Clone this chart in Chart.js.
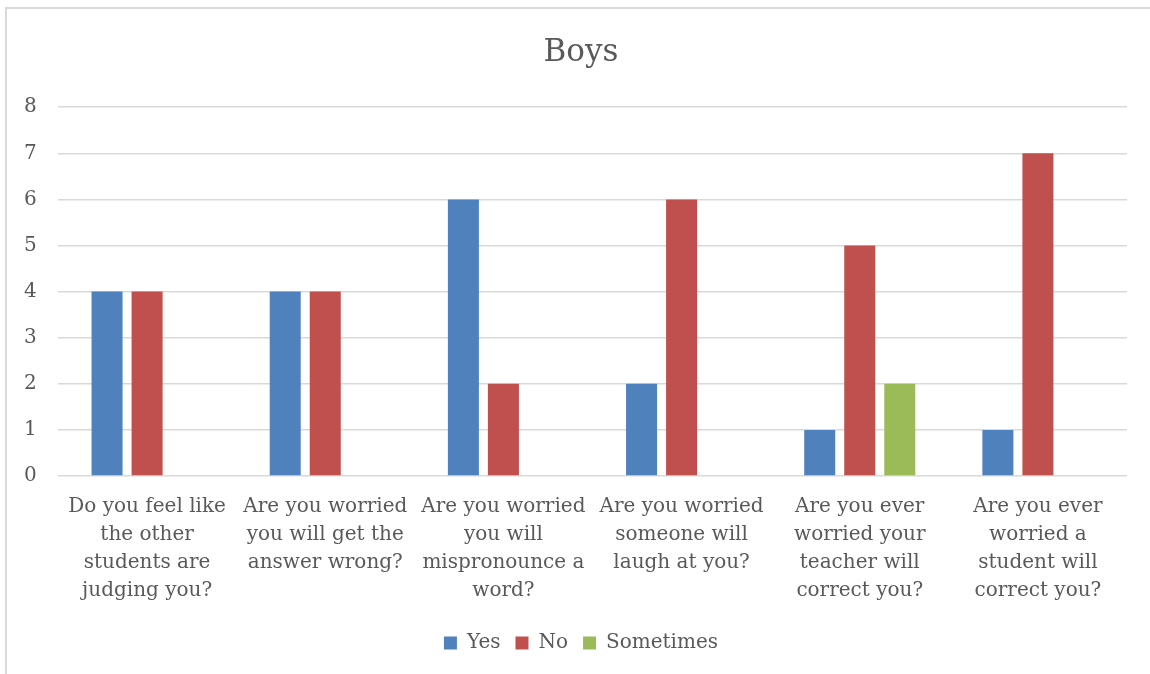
<!DOCTYPE html>
<html>
<head>
<meta charset="utf-8">
<script src="https://cdn.jsdelivr.net/npm/chart.js@4.4.1/dist/chart.umd.min.js"></script>
<style>
  html, body { margin: 0; padding: 0; background: #ffffff; overflow: hidden; }
  #frame { position: absolute; left: 5px; top: 7px; width: 1200px; height: 720px;
           border: 2px solid #d9d9d9; box-sizing: border-box; }
  #wrap { position: absolute; left: 0; top: 0; width: 1150px; height: 674px; }
</style>
</head>
<body>
<div id="frame"></div>
<div id="wrap"><canvas id="chart" width="1150" height="674"></canvas></div>
<script>
// Survey questions (wrapped the way they appear under each group)
const categories = [
  ["Do you feel like", "the other", "students are", "judging you?"],
  ["Are you worried", "you will get the", "answer wrong?"],
  ["Are you worried", "you will", "mispronounce a", "word?"],
  ["Are you worried", "someone will", "laugh at you?"],
  ["Are you ever", "worried your", "teacher will", "correct you?"],
  ["Are you ever", "worried a", "student will", "correct you?"]
];

// Number of boys giving each answer
const yesValues       = [4, 4, 6, 2, 1, 1];
const noValues        = [4, 4, 2, 6, 5, 7];
const sometimesValues = [null, null, null, null, 2, null];

const seriesNames = ["Yes", "No", "Sometimes"];
const yMin = 0, yMax = 8, yStep = 1;

const FONT = "'DejaVu Serif', 'Liberation Serif', serif";
const TEXT = "#595959";

new Chart(document.getElementById("chart"), {
  type: "bar",
  data: {
    labels: categories,
    datasets: [
      { label: seriesNames[0], data: yesValues, backgroundColor: "#4F81BD" },
      { label: seriesNames[1], data: noValues, backgroundColor: "#C0504D" },
      { label: seriesNames[2], data: sometimesValues, backgroundColor: "#9BBB59" }
    ]
  },
  options: {
    responsive: false,
    animation: false,
    devicePixelRatio: 1,
    layout: { padding: { left: 35, right: 23, top: 0, bottom: 11 } },
    datasets: {
      bar: { categoryPercentage: 0.674, barPercentage: 0.775, borderWidth: 0 }
    },
    plugins: {
      title: {
        display: true,
        text: "Boys",
        color: TEXT,
        font: { family: FONT, size: 31, weight: "normal" },
        padding: { top: 34, bottom: 36 }
      },
      legend: {
        position: "bottom",
        labels: {
          color: TEXT,
          font: { family: FONT, size: 20 },
          boxWidth: 13,
          boxHeight: 13,
          padding: 15
        }
      },
      tooltip: { enabled: false }
    },
    scales: {
      x: {
        afterFit: (scale) => { scale.height = 142; },
        grid: { display: false, drawTicks: false },
        border: { display: false },
        ticks: {
          color: TEXT,
          font: { family: FONT, size: 20, lineHeight: 1.4 },
          maxRotation: 0,
          minRotation: 0,
          autoSkip: false,
          padding: 17
        }
      },
      y: {
        min: yMin,
        max: yMax,
        afterFit: (scale) => { scale.width = 23; },
        grid: { color: "#d9d9d9", lineWidth: 1.4, drawTicks: false },
        border: { display: false },
        ticks: {
          stepSize: yStep,
          color: TEXT,
          font: { family: FONT, size: 20 },
          mirror: true,
          padding: -34
        }
      }
    }
  }
});
</script>
</body>
</html>
